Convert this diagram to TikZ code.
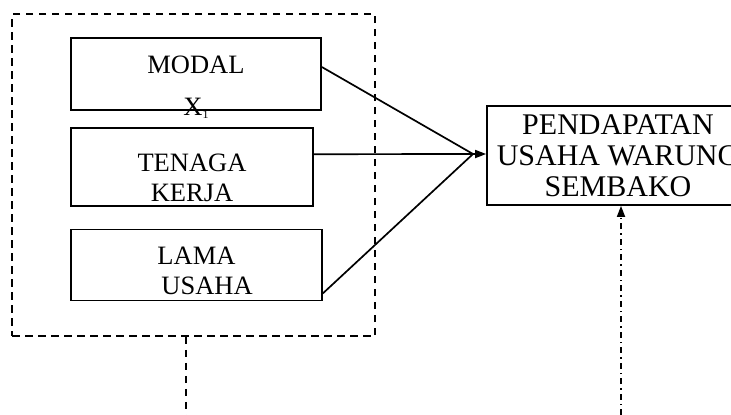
\documentclass[tikz,border=0pt]{standalone}
\usepackage{fontspec}
\setmainfont{Liberation Serif}
\usetikzlibrary{positioning,arrows.meta}

\tikzset{
	varbox/.style={draw, line width=1.7pt, inner sep=0pt},
	vartext/.style={align=center, inner sep=0pt, font=\fontsize{26.5}{30}\selectfont},
	resultbox/.style={draw, line width=1.7pt, inner sep=0pt, align=center, font=\fontsize{30}{31}\selectfont},
	groupbox/.style={draw, line width=1.8pt, dash pattern=on 7.5pt off 5.5pt},
	link/.style={line width=1.7pt},
	tip/.style={-{Triangle[length=11pt,width=8pt]}},
}

\begin{document}
\begin{tikzpicture}[x=1pt, y=-1pt]
	\path[use as bounding box] (0,0) rectangle (731,415);
	\clip (0,0) rectangle (731,415);
	
	% variabel bebas
	\node[groupbox, minimum width=363, minimum height=322] (faktor) at (193.5,175) {};
	\node[varbox, minimum width=250, minimum height=72] (modal) at (196,74) {};
	\node[varbox, minimum width=242, minimum height=78, below=16.5pt of modal.south west, anchor=north west] (tenaga) {};
	\node[varbox, minimum width=251, minimum height=71, below=21.5pt of tenaga.south west, anchor=north west] (lama) {};
	
	\node[vartext] (modaltext) at ([yshift=-13pt]modal.center) {MODAL\\[12pt]X{\fontsize{12}{12}\selectfont\raisebox{-3pt}{1}}};
	\node[vartext] (tenagatext) at ([yshift=-11pt]tenaga.center) {TENAGA\\KERJA};
	\node[vartext] (lamatext) at ([yshift=-5.5pt]lama.center) {LAMA\\\hspace*{0.8em}USAHA};
	
	% variabel terikat
	\node[resultbox, minimum width=262, minimum height=99] (pendapatan) at (618,155.5) {PENDAPATAN\\USAHA WARUNG\\SEMBAKO};
	
	\coordinate (temu) at (473,154);
	\coordinate (faktorkaki) at (186,415);
	\coordinate (lainkaki) at (621,415);
	
	\draw[link] ([yshift=7pt]modal.east) -- (temu);
	\draw[link, tip] ([yshift=13pt]tenaga.east) -- (temu -| pendapatan.west);
	\draw[link] ([yshift=-28.5pt]lama.east) -- (temu);
	
	\draw[groupbox] (faktor.south -| faktorkaki) -- (faktorkaki);
	\draw[link, tip, dash pattern=on 6pt off 4pt on 1.5pt off 4pt] (lainkaki) -- (lainkaki |- pendapatan.south);
\end{tikzpicture}
\end{document}
